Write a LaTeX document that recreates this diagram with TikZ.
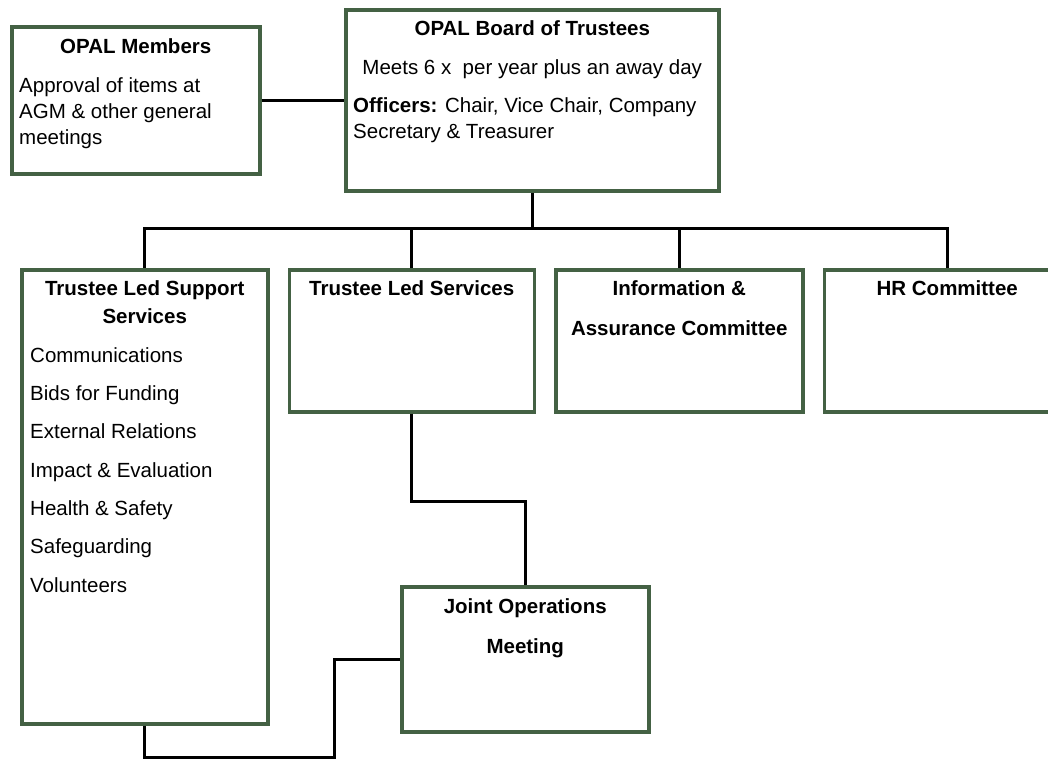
\documentclass[tikz,border=0pt]{standalone}
\usepackage{fontspec}
\setmainfont{Liberation Sans}
\usepackage{xcolor}
\usepackage{tikz}
\usetikzlibrary{positioning}
\definecolor{boxgreen}{RGB}{68,97,68}

\begin{document}
\begin{tikzpicture}[x=1pt, y=-1pt, node distance=18pt,
  box/.style={draw=boxgreen, line width=3.5pt, fill=white, inner sep=0pt, anchor=north west},
  head/.style={font=\fontsize{20.5}{28}\selectfont\bfseries, align=center, inner sep=0pt, anchor=base},
  body/.style={font=\fontsize{20.5}{26}\selectfont, align=left, inner sep=0pt, anchor=base west},
  link/.style={draw=black, line width=3pt}]
\useasboundingbox (0,0) rectangle (1048,758);

% top row
\node[box, minimum width=248pt, minimum height=147pt] (members) at (10,25) {};
\node[box, minimum width=373pt, minimum height=181pt] (board) at (344,8) {};

% committees
\node[box, minimum width=246pt, minimum height=454pt] (tlss) at (20,268) {};
\node[box, minimum width=245pt, minimum height=142pt, right=of tlss.north east, anchor=north west] (tls) {};
\node[box, minimum width=247pt, minimum height=142pt, right=of tls.north east, anchor=north west] (info) {};
\node[box, minimum width=246pt, minimum height=142pt, right=of info.north east, anchor=north west] (hr) {};
\node[box, minimum width=247pt, minimum height=145pt] (jom) at (400,585) {};

% texts (base of a multi-line node = its last line)
\node[head] (membershead) at ([yshift=-28pt]members.north) {OPAL Members};
\node[body] (memberstext) at ([xshift=9pt, yshift=-119pt]members.north west)
  {Approval of items at\\AGM \& other general\\meetings};
\node[head] (boardhead) at ([yshift=-27pt]board.north) {OPAL Board of Trustees};
\node[head, font=\fontsize{20.5}{26}\selectfont] (boardmeets) at ([yshift=-66pt]board.north)
  {Meets 6 x~ per year plus an away day};
\node[body] (boardtext) at ([xshift=9pt, yshift=-130pt]board.north west)
  {\textbf{Officers:} Chair, Vice Chair, Company\\Secretary \& Treasurer};
\node[head] (tlsshead) at ([yshift=-55pt]tlss.north) {Trustee Led Support\\Services};
\node[body, font=\fontsize{20.5}{38.3}\selectfont] (tlsstext) at ([xshift=10pt, yshift=-324pt]tlss.north west)
  {Communications\\Bids for Funding\\External Relations\\Impact \& Evaluation\\Health \& Safety\\Safeguarding\\Volunteers};
\node[head] (tlshead) at ([yshift=-27pt]tls.north) {Trustee Led Services};
\node[head] (infohead) at ([yshift=-67pt]info.north) {Information \&\\[12pt]Assurance Committee};
\node[head] (hrhead) at ([yshift=-27pt]hr.north) {HR Committee};
\node[head] (jomhead) at ([yshift=-68pt]jom.north) {Joint Operations\\[12pt]Meeting};

% connectors
\coordinate (bus) at (0,228);
\coordinate (loop) at (334,757);
\draw[link] (members.east) -- (members.east -| board.west);
\draw[link] (board.south) -- (board.south |- bus);
\draw[link] (tlss.north) -- (tlss.north |- bus) -- (hr.north |- bus) -- (hr.north);
\draw[link] (tls.north) -- (tls.north |- bus);
\draw[link] (info.north) -- (info.north |- bus);
\draw[link] (tls.south) -- ++(0,88) -| (jom.north);
\draw[link] (tlss.south) |- (loop) |- (jom.west);
\end{tikzpicture}
\end{document}
